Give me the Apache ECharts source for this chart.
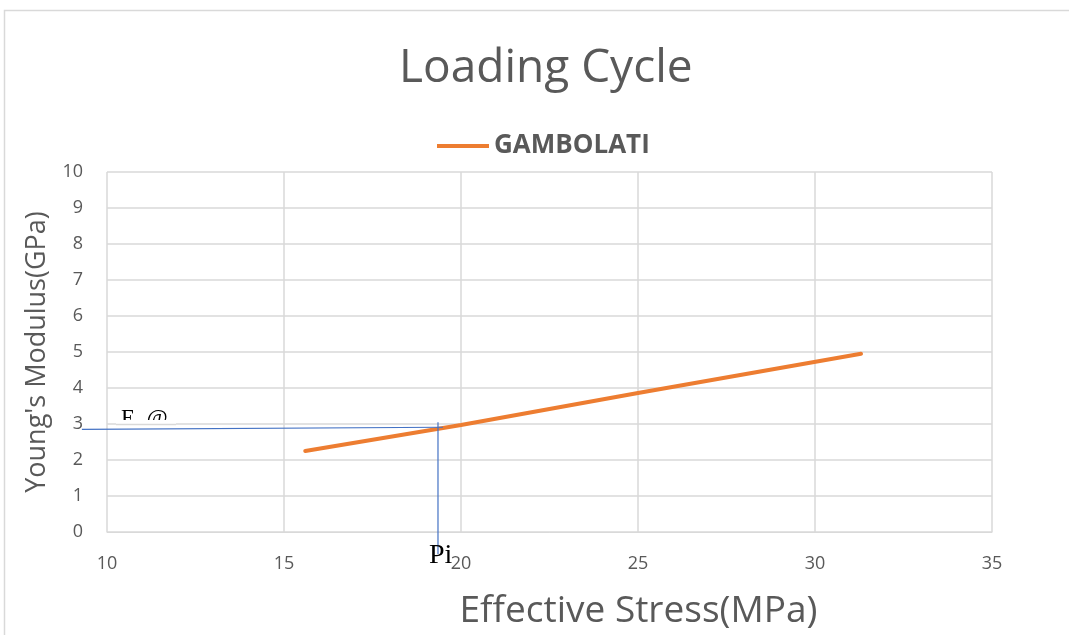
<!DOCTYPE html>
<html>
<head>
<meta charset="utf-8">
<title>Loading Cycle</title>
<script src="https://cdn.jsdelivr.net/npm/echarts@6/dist/echarts.min.js"></script>
<style>
  html, body { margin: 0; padding: 0; background: #fff; }
  #container { width: 1069px; height: 635px; }
</style>
</head>
<body>
<div id="container"></div>
<script type="text/javascript">
// values
var gamStress = [15.6, 20, 25, 31.3];
var gamModulus = [2.25, 2.97, 3.86, 4.95];
// hand drawn helper lines (E @ Pi)
var refH = [[9.29, 2.85], [19.49, 2.91]];
var refV = [[19.35, 3.05], [19.35, -0.61]];

var gamData = gamStress.map(function (x, i) { return [x, gamModulus[i]]; });

var grey = '#595959';
var gridCol = '#d9d9d9';

var myChart = echarts.init(document.getElementById('container'));
myChart.setOption({
  animation: false,
  title: {
    text: 'Loading Cycle',
    left: 394,
    top: 41,
    textStyle: { fontFamily: 'Open Sans', fontWeight: 'normal', fontSize: 46, color: grey }
  },
  legend: {
    top: 128,
    left: 432,
    itemWidth: 52,
    itemHeight: 4,
    itemGap: 6,
    data: [{ name: 'GAMBOLATI', icon: 'rect' }],
    textStyle: { fontFamily: 'Open Sans', fontWeight: 'bold', fontSize: 26, color: grey }
  },
  grid: { left: 107, right: 77, top: 172, bottom: 102 },
  xAxis: {
    type: 'value',
    min: 10, max: 35, interval: 5,
    name: 'Effective Stress(MPa)',
    nameLocation: 'middle',
    nameGap: 61,
    nameTextStyle: { fontFamily: 'Open Sans', fontSize: 37, color: grey, padding: [0, 0, 0, 178] },
    axisLine: { lineStyle: { color: gridCol } },
    axisTick: { show: false },
    axisLabel: { fontFamily: 'Open Sans', fontSize: 18, color: grey, margin: 23 },
    splitLine: { show: true, lineStyle: { color: gridCol, width: 1.5 } }
  },
  yAxis: {
    type: 'value',
    min: 0, max: 10, interval: 1,
    name: "Young's Modulus(GPa)",
    nameLocation: 'middle',
    nameGap: 56,
    nameTextStyle: { fontFamily: 'Open Sans', fontSize: 27, color: grey },
    axisLine: { show: false },
    axisTick: { show: false },
    axisLabel: { fontFamily: 'Open Sans', fontSize: 18, color: grey, margin: 24 },
    splitLine: { show: true, lineStyle: { color: gridCol, width: 1.5 } }
  },
  series: [
    {
      name: 'GAMBOLATI',
      type: 'line',
      data: gamData,
      showSymbol: false,
      z: 6,
      itemStyle: { color: '#ed7d31' },
      lineStyle: { color: '#ed7d31', width: 4, cap: 'round' }
    }
  ]
});

// helper lines go outside the plot area, so draw them as graphics
function px(p) { return myChart.convertToPixel({ gridIndex: 0 }, p); }
var h0 = px(refH[0]), h1 = px(refH[1]), v0 = px(refV[0]), v1 = px(refV[1]);
var blue = { stroke: '#4472c4', lineWidth: 1.2 };

myChart.setOption({
  graphic: [
    { type: 'rect', shape: { x: 4.5, y: 10.5, width: 1200, height: 800 },
      style: { fill: 'none', stroke: gridCol, lineWidth: 1.5 }, z: 1 },
    { type: 'text', left: 121, top: 407, z: 3,
      style: { text: 'E  @', font: '23px "Liberation Serif"', fill: '#000' } },
    // text box hides the lower half of "E @"
    { type: 'rect', shape: { x: 116, y: 420, width: 60, height: 30 },
      style: { fill: '#fff' }, z: 4 },
    { type: 'line', shape: { x1: 116, y1: 424.5, x2: 176, y2: 424.5 },
      style: { stroke: gridCol, lineWidth: 1.5 }, z: 5 },
    { type: 'line', shape: { x1: h0[0], y1: h0[1], x2: h1[0], y2: h1[1] }, style: blue, z: 7 },
    { type: 'line', shape: { x1: v0[0], y1: v0[1], x2: v1[0], y2: v1[1] }, style: blue, z: 7 },
    { type: 'text', left: 429, top: 542, z: 8,
      style: { text: 'Pi', font: '28px "Liberation Serif"', fill: '#000' } }
  ]
});
</script>
</body>
</html>
